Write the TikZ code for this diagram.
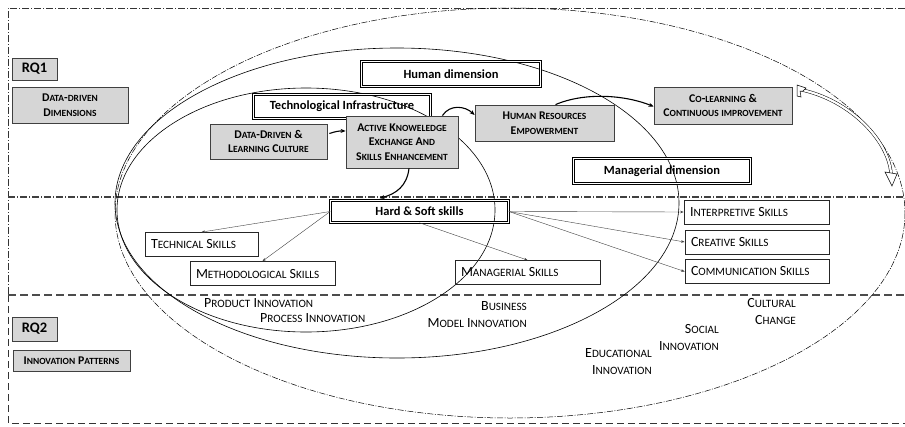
\documentclass[tikz,border=0pt]{standalone}
\usepackage{fontspec}
\setmainfont{Carlito}
\usetikzlibrary{arrows.meta}
\ExplSyntaxOn
\seq_new:N \l_fsc_words_seq
\bool_new:N \l_fsc_first_bool
\cs_new_protected:Npn \fsc_char:n #1
 {
  \str_if_eq:eeTF { \text_uppercase:n {#1} } { #1 }
   { #1 }
   { { \fontsize { \fp_eval:n { 0.8 * \use:c { f@size } } } { 0pt } \selectfont \text_uppercase:n {#1} } }
 }
\cs_new_protected:Npn \fsc #1
 {
  \seq_set_split:Nnn \l_fsc_words_seq { ~ } {#1}
  \bool_set_true:N \l_fsc_first_bool
  \seq_map_inline:Nn \l_fsc_words_seq
   {
    \bool_if:NF \l_fsc_first_bool { \c_space_tl }
    \bool_set_false:N \l_fsc_first_bool
    \tl_map_inline:nn {##1} { \fsc_char:n {####1} }
   }
 }
\ExplSyntaxOff
\begin{document}
\begin{tikzpicture}[x=1pt,y=-1pt,
  gbox/.style={draw=black!75, fill=black!16, line width=0.8pt, inner sep=0pt, align=center,
    font=\bfseries\fontsize{11.8}{14.5}\selectfont},
  rqbox/.style={gbox, font=\bfseries\fontsize{14.5}{16}\selectfont},
  dbox/.style={draw, double, double distance=1.8pt, line width=0.6pt, inner sep=0pt,
    font=\bfseries\fontsize{12.5}{14}\selectfont},
  sbox/.style={draw=black!85, line width=0.8pt, inner xsep=6pt, inner ysep=0pt, minimum height=24,
    font=\fontsize{14}{16}\selectfont},
  lbl/.style={inner sep=0pt, font=\fontsize{14}{17}\selectfont},
  thick arrow/.style={line width=1.1pt, -{Stealth[length=5pt,width=4pt]}},
  thin arrow/.style={line width=0.4pt, draw=black!75, -{Stealth[length=3.5pt,width=2.5pt]}},
  dashdot/.style={dash pattern=on 7pt off 2pt on 1pt off 2pt},
]
\useasboundingbox (0,0) rectangle (905,426);
% frame and separators
\draw[dashdot, line width=0.8pt, draw=black!80] (905,8) -- (8,8) -- (8,295);
\draw[dash pattern=on 7pt off 4pt, line width=0.8pt, draw=black!80] (8,295) -- (8,423) -- (905,423);
\draw[dashdot, line width=1.1pt, draw=black!75] (8,197) -- (905,197);
\draw[dash pattern=on 8pt off 4pt, line width=1.6pt, draw=black!70] (8,295) -- (905,295);
% ellipses
\draw[dash pattern=on 6pt off 1.5pt on 1pt off 1.5pt, line width=0.5pt] (510,213) ellipse [x radius=395, y radius=205];
\draw[line width=0.6pt] (397,203) ellipse [x radius=282, y radius=155];
\draw[line width=0.6pt] (306,210) ellipse [x radius=189, y radius=122];
% boxes
\node[rqbox, minimum width=45, minimum height=22] (rq1) at (34.5,69) {RQ1};
\node[gbox, minimum width=116, minimum height=36] (ddd) at (70,105) {\fsc{Data-driven}\\\fsc{Dimensions}};
\node[dbox, minimum width=179, minimum height=25] (hum) at (451,74) {Human dimension};
\node[dbox, minimum width=177, minimum height=24] (tech) at (342,106.5) {Technological Infrastructure};
\node[gbox, minimum width=117, minimum height=35] (ddl) at (268.5,141.5) {\fsc{Data-Driven \&}\\\fsc{Learning Culture}};
\node[gbox, minimum width=112, minimum height=52] (ake) at (402,142) {\fsc{Active Knoweledge}\\\fsc{Exchange And}\\\fsc{Skills Enhancement}};
\node[gbox, minimum width=139, minimum height=36] (hr) at (544.5,123) {\fsc{Human Resources}\\\fsc{Empowerment}};
\node[gbox, minimum width=138, minimum height=37] (co) at (723,105.5) {\fsc{Co-learning \&}\\\fsc{Continuous improvement}};
\node[dbox, minimum width=177, minimum height=25] (mgd) at (662,171) {Managerial dimension};
\node[dbox, minimum width=178, minimum height=22] (hs) at (419.5,211.5) {Hard \& Soft skills};
\node[sbox] (tsk) at (201.5,244.5) {\makebox[101pt][l]{\fsc{Technical Skills}}};
\node[sbox] (msk) at (262.5,273.5) {\makebox[133pt][l]{\fsc{Methodological Skills}}};
\node[sbox] (mansk) at (527.5,272.5) {\makebox[133pt][l]{\fsc{Managerial Skills}}};
\node[sbox] (isk) at (756.5,212) {\makebox[133pt][l]{\fsc{Interpretive Skills}}};
\node[sbox] (csk) at (757,242) {\makebox[132pt][l]{\fsc{Creative Skills}}};
\node[sbox] (comsk) at (757,271.5) {\makebox[132pt][l]{\fsc{Communication Skills}}};
\node[rqbox, minimum width=45, minimum height=24] (rq2) at (34.5,329) {RQ2};
\node[gbox, minimum width=117, minimum height=21] (ip) at (71.5,360.5) {\fsc{Innovation Patterns}};
% innovation labels
\node[lbl, anchor=west] (prod) at (204,303) {\fsc{Product Innovation}};
\node[lbl, anchor=west] (proc) at (260,318) {\fsc{Process Innovation}};
\node[lbl, anchor=north east, align=right] (bmi) at (527,301) {\fsc{Business}\\\fsc{Model Innovation}};
\node[lbl, anchor=north east, align=right] (edu) at (652,348) {\fsc{Educational}\\\fsc{Innovation}};
\node[lbl, anchor=north east, align=right] (soc) at (719,324) {\fsc{Social}\\\fsc{Innovation}};
\node[lbl, anchor=north east, align=right] (cul) at (796,298) {\fsc{Cultural}\\\fsc{Change}};
% thick arrows
\draw[thick arrow] ([shift={(2,-8)}]ddl.east) to[bend left=10] ([shift={(0,-11)}]ake.west);
\draw[thick arrow] ([shift={(-16,0)}]ake.north east) .. controls (450,104) and (465,106) .. ([shift={(0,-8)}]hr.west);
\draw[thick arrow] ([shift={(11,0)}]hr.north) .. controls (585,92) and (625,95) .. ([shift={(0,1)}]co.west);
\draw[thick arrow] ([shift={(7,0)}]ake.south) .. controls (407,186) and (396,194) .. ([shift={(-40,-2)}]hs.north);
% thin arrows
\draw[thin arrow] (hs.west) -- (tsk.north);
\draw[thin arrow] (hs.west) -- (msk.north);
\draw[thin arrow] (hs.south) -- (mansk.north);
\draw[thin arrow] (hs.east) -- (isk.west);
\draw[thin arrow] (hs.east) -- (csk.west);
\draw[thin arrow] (hs.east) -- (comsk.west);
% big hollow arrow
\coordinate (bigend) at (891,173);
\draw[line width=0.5pt, double=white, double distance=2.2pt] ([shift={(8,3)}]co.north east) .. controls (850,100) and (888,140) .. (bigend);
\draw[line width=0.5pt, fill=white] (797,85) -- (806,88) -- (803,91) -- (800,91) -- (801,97) -- (797,96) -- cycle;
\draw[line width=0.5pt, fill=white] ([shift={(-6,-1)}]bigend) -- ([shift={(6,1)}]bigend) -- ([shift={(1,13)}]bigend) -- cycle;
\end{tikzpicture}
\end{document}
